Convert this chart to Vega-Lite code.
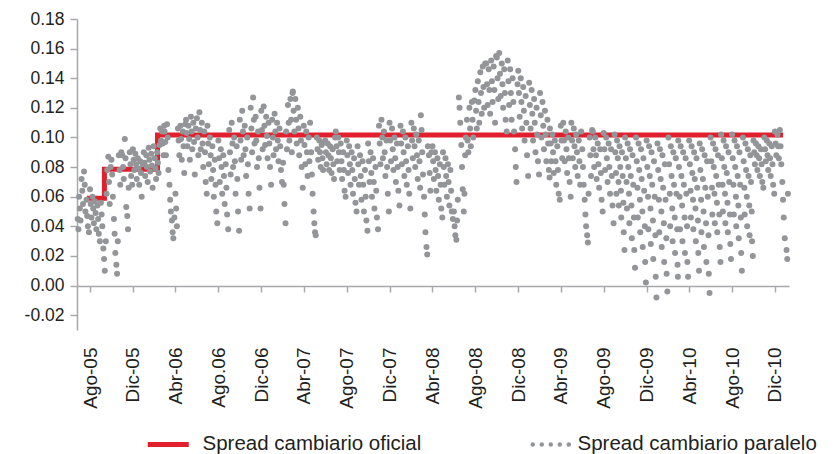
{
"$schema":"https://vega.github.io/schema/vega-lite/v6.json",
"width":712,"height":311,
"autosize":{"type":"none"},
"padding":{"left":77,"top":19,"right":47,"bottom":124},
"background":"white",
"config":{"view":{"stroke":null},"font":"Liberation Sans"},
"datasets":{
"oficial":[{"d":"2005-07-23","v":0.059},{"d":"2005-09-11","v":0.0785},{"d":"2006-02-09","v":0.1017},{"d":"2010-12-24","v":0.1017}],
"paralelo":[
{"d":"2005-06-27","v":0.045},{"d":"2005-06-29","v":0.038},
{"d":"2005-07-01","v":0.060},{"d":"2005-07-03","v":0.052},{"d":"2005-07-05","v":0.044},{"d":"2005-07-08","v":0.072},{"d":"2005-07-10","v":0.064},{"d":"2005-07-12","v":0.055},{"d":"2005-07-15","v":0.077},{"d":"2005-07-17","v":0.068},{"d":"2005-07-19","v":0.050},{"d":"2005-07-22","v":0.058},{"d":"2005-07-24","v":0.047},{"d":"2005-07-26","v":0.040},{"d":"2005-07-29","v":0.036},
{"d":"2005-08-01","v":0.065},{"d":"2005-08-03","v":0.055},{"d":"2005-08-05","v":0.046},{"d":"2005-08-08","v":0.060},{"d":"2005-08-10","v":0.052},{"d":"2005-08-12","v":0.042},{"d":"2005-08-15","v":0.057},{"d":"2005-08-17","v":0.049},{"d":"2005-08-19","v":0.038},{"d":"2005-08-22","v":0.054},{"d":"2005-08-24","v":0.045},{"d":"2005-08-26","v":0.035},{"d":"2005-08-29","v":0.030},
{"d":"2005-09-01","v":0.056},{"d":"2005-09-03","v":0.048},{"d":"2005-09-05","v":0.040},{"d":"2005-09-08","v":0.025},{"d":"2005-09-10","v":0.018},{"d":"2005-09-12","v":0.010},{"d":"2005-09-15","v":0.030},{"d":"2005-09-17","v":0.062},{"d":"2005-09-19","v":0.078},{"d":"2005-09-22","v":0.087},{"d":"2005-09-24","v":0.070},{"d":"2005-09-26","v":0.055},{"d":"2005-09-29","v":0.080},
{"d":"2005-10-01","v":0.085},{"d":"2005-10-03","v":0.075},{"d":"2005-10-05","v":0.060},{"d":"2005-10-08","v":0.045},{"d":"2005-10-10","v":0.035},{"d":"2005-10-12","v":0.022},{"d":"2005-10-15","v":0.014},{"d":"2005-10-17","v":0.008},{"d":"2005-10-19","v":0.030},{"d":"2005-10-22","v":0.088},{"d":"2005-10-24","v":0.078},{"d":"2005-10-26","v":0.068},{"d":"2005-10-29","v":0.090},
{"d":"2005-11-01","v":0.088},{"d":"2005-11-03","v":0.080},{"d":"2005-11-05","v":0.072},{"d":"2005-11-08","v":0.099},{"d":"2005-11-10","v":0.086},{"d":"2005-11-12","v":0.053},{"d":"2005-11-15","v":0.047},{"d":"2005-11-17","v":0.038},{"d":"2005-11-19","v":0.066},{"d":"2005-11-22","v":0.090},{"d":"2005-11-24","v":0.082},{"d":"2005-11-26","v":0.074},{"d":"2005-11-29","v":0.068},
{"d":"2005-12-01","v":0.092},{"d":"2005-12-03","v":0.085},{"d":"2005-12-05","v":0.078},{"d":"2005-12-08","v":0.089},{"d":"2005-12-10","v":0.082},{"d":"2005-12-12","v":0.072},{"d":"2005-12-15","v":0.086},{"d":"2005-12-17","v":0.079},{"d":"2005-12-19","v":0.068},{"d":"2005-12-22","v":0.084},{"d":"2005-12-24","v":0.076},{"d":"2005-12-26","v":0.060},{"d":"2005-12-29","v":0.082},
{"d":"2006-01-01","v":0.090},{"d":"2006-01-03","v":0.083},{"d":"2006-01-05","v":0.074},{"d":"2006-01-08","v":0.088},{"d":"2006-01-10","v":0.080},{"d":"2006-01-12","v":0.070},{"d":"2006-01-15","v":0.093},{"d":"2006-01-17","v":0.085},{"d":"2006-01-19","v":0.077},{"d":"2006-01-22","v":0.089},{"d":"2006-01-24","v":0.081},{"d":"2006-01-26","v":0.066},{"d":"2006-01-29","v":0.094},
{"d":"2006-02-01","v":0.086},{"d":"2006-02-03","v":0.079},{"d":"2006-02-05","v":0.072},{"d":"2006-02-08","v":0.090},{"d":"2006-02-10","v":0.083},{"d":"2006-02-12","v":0.076},{"d":"2006-02-15","v":0.095},{"d":"2006-02-17","v":0.106},{"d":"2006-02-19","v":0.098},{"d":"2006-02-22","v":0.104},{"d":"2006-02-24","v":0.096},{"d":"2006-02-26","v":0.088},{"d":"2006-02-28","v":0.108},
{"d":"2006-03-01","v":0.104},{"d":"2006-03-03","v":0.097},{"d":"2006-03-05","v":0.088},{"d":"2006-03-08","v":0.109},{"d":"2006-03-10","v":0.100},{"d":"2006-03-12","v":0.078},{"d":"2006-03-15","v":0.068},{"d":"2006-03-17","v":0.058},{"d":"2006-03-19","v":0.050},{"d":"2006-03-22","v":0.044},{"d":"2006-03-24","v":0.036},{"d":"2006-03-26","v":0.032},{"d":"2006-03-29","v":0.046},
{"d":"2006-04-01","v":0.062},{"d":"2006-04-03","v":0.052},{"d":"2006-04-05","v":0.040},{"d":"2006-04-08","v":0.106},{"d":"2006-04-10","v":0.098},{"d":"2006-04-12","v":0.088},{"d":"2006-04-15","v":0.108},{"d":"2006-04-17","v":0.099},{"d":"2006-04-19","v":0.085},{"d":"2006-04-22","v":0.104},{"d":"2006-04-24","v":0.094},{"d":"2006-04-26","v":0.076},{"d":"2006-04-29","v":0.109},
{"d":"2006-05-01","v":0.112},{"d":"2006-05-03","v":0.103},{"d":"2006-05-05","v":0.094},{"d":"2006-05-08","v":0.108},{"d":"2006-05-10","v":0.099},{"d":"2006-05-12","v":0.085},{"d":"2006-05-15","v":0.114},{"d":"2006-05-17","v":0.104},{"d":"2006-05-19","v":0.092},{"d":"2006-05-22","v":0.110},{"d":"2006-05-24","v":0.097},{"d":"2006-05-26","v":0.075},{"d":"2006-05-29","v":0.106},
{"d":"2006-06-01","v":0.113},{"d":"2006-06-03","v":0.100},{"d":"2006-06-05","v":0.088},{"d":"2006-06-08","v":0.117},{"d":"2006-06-10","v":0.105},{"d":"2006-06-12","v":0.092},{"d":"2006-06-15","v":0.110},{"d":"2006-06-17","v":0.096},{"d":"2006-06-19","v":0.080},{"d":"2006-06-22","v":0.104},{"d":"2006-06-24","v":0.090},{"d":"2006-06-26","v":0.070},{"d":"2006-06-29","v":0.062},
{"d":"2006-07-01","v":0.108},{"d":"2006-07-03","v":0.096},{"d":"2006-07-05","v":0.082},{"d":"2006-07-08","v":0.100},{"d":"2006-07-10","v":0.088},{"d":"2006-07-12","v":0.072},{"d":"2006-07-15","v":0.094},{"d":"2006-07-17","v":0.078},{"d":"2006-07-19","v":0.060},{"d":"2006-07-22","v":0.085},{"d":"2006-07-24","v":0.068},{"d":"2006-07-26","v":0.050},{"d":"2006-07-29","v":0.042},
{"d":"2006-08-01","v":0.098},{"d":"2006-08-03","v":0.086},{"d":"2006-08-05","v":0.070},{"d":"2006-08-08","v":0.092},{"d":"2006-08-10","v":0.080},{"d":"2006-08-12","v":0.062},{"d":"2006-08-15","v":0.088},{"d":"2006-08-17","v":0.074},{"d":"2006-08-19","v":0.055},{"d":"2006-08-22","v":0.082},{"d":"2006-08-24","v":0.066},{"d":"2006-08-26","v":0.048},{"d":"2006-08-29","v":0.038},
{"d":"2006-09-01","v":0.105},{"d":"2006-09-03","v":0.090},{"d":"2006-09-05","v":0.075},{"d":"2006-09-08","v":0.110},{"d":"2006-09-10","v":0.096},{"d":"2006-09-12","v":0.080},{"d":"2006-09-15","v":0.100},{"d":"2006-09-17","v":0.084},{"d":"2006-09-19","v":0.062},{"d":"2006-09-22","v":0.094},{"d":"2006-09-24","v":0.072},{"d":"2006-09-26","v":0.050},{"d":"2006-09-29","v":0.037},
{"d":"2006-10-01","v":0.112},{"d":"2006-10-03","v":0.098},{"d":"2006-10-05","v":0.085},{"d":"2006-10-08","v":0.118},{"d":"2006-10-10","v":0.104},{"d":"2006-10-12","v":0.088},{"d":"2006-10-15","v":0.108},{"d":"2006-10-17","v":0.092},{"d":"2006-10-19","v":0.074},{"d":"2006-10-22","v":0.100},{"d":"2006-10-24","v":0.082},{"d":"2006-10-26","v":0.062},{"d":"2006-10-29","v":0.052},
{"d":"2006-11-01","v":0.120},{"d":"2006-11-03","v":0.106},{"d":"2006-11-05","v":0.090},{"d":"2006-11-08","v":0.127},{"d":"2006-11-10","v":0.112},{"d":"2006-11-12","v":0.096},{"d":"2006-11-15","v":0.114},{"d":"2006-11-17","v":0.098},{"d":"2006-11-19","v":0.080},{"d":"2006-11-22","v":0.104},{"d":"2006-11-24","v":0.086},{"d":"2006-11-26","v":0.066},{"d":"2006-11-29","v":0.052},
{"d":"2006-12-01","v":0.118},{"d":"2006-12-03","v":0.105},{"d":"2006-12-05","v":0.092},{"d":"2006-12-08","v":0.121},{"d":"2006-12-10","v":0.108},{"d":"2006-12-12","v":0.095},{"d":"2006-12-15","v":0.114},{"d":"2006-12-17","v":0.101},{"d":"2006-12-19","v":0.086},{"d":"2006-12-22","v":0.110},{"d":"2006-12-24","v":0.096},{"d":"2006-12-26","v":0.080},{"d":"2006-12-29","v":0.068},
{"d":"2007-01-01","v":0.112},{"d":"2007-01-03","v":0.100},{"d":"2007-01-05","v":0.088},{"d":"2007-01-08","v":0.116},{"d":"2007-01-10","v":0.104},{"d":"2007-01-12","v":0.092},{"d":"2007-01-15","v":0.110},{"d":"2007-01-17","v":0.098},{"d":"2007-01-19","v":0.084},{"d":"2007-01-22","v":0.106},{"d":"2007-01-24","v":0.094},{"d":"2007-01-26","v":0.078},{"d":"2007-01-29","v":0.070},
{"d":"2007-02-01","v":0.083},{"d":"2007-02-03","v":0.068},{"d":"2007-02-05","v":0.055},{"d":"2007-02-08","v":0.042},{"d":"2007-02-10","v":0.104},{"d":"2007-02-12","v":0.092},{"d":"2007-02-15","v":0.122},{"d":"2007-02-17","v":0.110},{"d":"2007-02-19","v":0.098},{"d":"2007-02-22","v":0.126},{"d":"2007-02-24","v":0.112},{"d":"2007-02-26","v":0.090},{"d":"2007-02-28","v":0.130},
{"d":"2007-03-01","v":0.131},{"d":"2007-03-03","v":0.118},{"d":"2007-03-05","v":0.104},{"d":"2007-03-08","v":0.126},{"d":"2007-03-10","v":0.112},{"d":"2007-03-12","v":0.096},{"d":"2007-03-15","v":0.120},{"d":"2007-03-17","v":0.106},{"d":"2007-03-19","v":0.088},{"d":"2007-03-22","v":0.114},{"d":"2007-03-24","v":0.098},{"d":"2007-03-26","v":0.080},{"d":"2007-03-29","v":0.066},
{"d":"2007-04-01","v":0.108},{"d":"2007-04-03","v":0.095},{"d":"2007-04-05","v":0.082},{"d":"2007-04-08","v":0.104},{"d":"2007-04-10","v":0.090},{"d":"2007-04-12","v":0.074},{"d":"2007-04-15","v":0.100},{"d":"2007-04-17","v":0.084},{"d":"2007-04-19","v":0.110},{"d":"2007-04-22","v":0.090},{"d":"2007-04-24","v":0.075},{"d":"2007-04-26","v":0.062},{"d":"2007-04-29","v":0.050},
{"d":"2007-05-01","v":0.042},{"d":"2007-05-03","v":0.036},{"d":"2007-05-05","v":0.034},{"d":"2007-05-08","v":0.100},{"d":"2007-05-10","v":0.092},{"d":"2007-05-12","v":0.085},{"d":"2007-05-15","v":0.098},{"d":"2007-05-17","v":0.090},{"d":"2007-05-19","v":0.080},{"d":"2007-05-22","v":0.095},{"d":"2007-05-24","v":0.086},{"d":"2007-05-26","v":0.078},{"d":"2007-05-29","v":0.097},
{"d":"2007-06-01","v":0.098},{"d":"2007-06-03","v":0.090},{"d":"2007-06-05","v":0.082},{"d":"2007-06-08","v":0.096},{"d":"2007-06-10","v":0.088},{"d":"2007-06-12","v":0.078},{"d":"2007-06-15","v":0.094},{"d":"2007-06-17","v":0.086},{"d":"2007-06-19","v":0.076},{"d":"2007-06-22","v":0.092},{"d":"2007-06-24","v":0.082},{"d":"2007-06-26","v":0.072},{"d":"2007-06-29","v":0.100},
{"d":"2007-07-01","v":0.104},{"d":"2007-07-03","v":0.094},{"d":"2007-07-05","v":0.084},{"d":"2007-07-08","v":0.100},{"d":"2007-07-10","v":0.090},{"d":"2007-07-12","v":0.078},{"d":"2007-07-15","v":0.096},{"d":"2007-07-17","v":0.084},{"d":"2007-07-19","v":0.072},{"d":"2007-07-22","v":0.090},{"d":"2007-07-24","v":0.078},{"d":"2007-07-26","v":0.064},{"d":"2007-07-29","v":0.060},
{"d":"2007-08-01","v":0.098},{"d":"2007-08-03","v":0.088},{"d":"2007-08-05","v":0.076},{"d":"2007-08-08","v":0.094},{"d":"2007-08-10","v":0.082},{"d":"2007-08-12","v":0.068},{"d":"2007-08-15","v":0.090},{"d":"2007-08-17","v":0.078},{"d":"2007-08-19","v":0.062},{"d":"2007-08-22","v":0.086},{"d":"2007-08-24","v":0.072},{"d":"2007-08-26","v":0.056},{"d":"2007-08-29","v":0.050},
{"d":"2007-09-01","v":0.094},{"d":"2007-09-03","v":0.082},{"d":"2007-09-05","v":0.068},{"d":"2007-09-08","v":0.088},{"d":"2007-09-10","v":0.074},{"d":"2007-09-12","v":0.058},{"d":"2007-09-15","v":0.084},{"d":"2007-09-17","v":0.068},{"d":"2007-09-19","v":0.050},{"d":"2007-09-22","v":0.078},{"d":"2007-09-24","v":0.060},{"d":"2007-09-26","v":0.044},{"d":"2007-09-29","v":0.037},
{"d":"2007-10-01","v":0.096},{"d":"2007-10-03","v":0.084},{"d":"2007-10-05","v":0.070},{"d":"2007-10-08","v":0.090},{"d":"2007-10-10","v":0.076},{"d":"2007-10-12","v":0.060},{"d":"2007-10-15","v":0.086},{"d":"2007-10-17","v":0.070},{"d":"2007-10-19","v":0.052},{"d":"2007-10-22","v":0.080},{"d":"2007-10-24","v":0.064},{"d":"2007-10-26","v":0.046},{"d":"2007-10-29","v":0.038},
{"d":"2007-11-01","v":0.108},{"d":"2007-11-03","v":0.096},{"d":"2007-11-05","v":0.082},{"d":"2007-11-08","v":0.112},{"d":"2007-11-10","v":0.100},{"d":"2007-11-12","v":0.086},{"d":"2007-11-15","v":0.104},{"d":"2007-11-17","v":0.090},{"d":"2007-11-19","v":0.074},{"d":"2007-11-22","v":0.098},{"d":"2007-11-24","v":0.080},{"d":"2007-11-26","v":0.062},{"d":"2007-11-29","v":0.050},
{"d":"2007-12-01","v":0.110},{"d":"2007-12-03","v":0.098},{"d":"2007-12-05","v":0.084},{"d":"2007-12-08","v":0.106},{"d":"2007-12-10","v":0.092},{"d":"2007-12-12","v":0.078},{"d":"2007-12-15","v":0.100},{"d":"2007-12-17","v":0.086},{"d":"2007-12-19","v":0.070},{"d":"2007-12-22","v":0.096},{"d":"2007-12-24","v":0.080},{"d":"2007-12-26","v":0.064},{"d":"2007-12-29","v":0.054},
{"d":"2008-01-01","v":0.108},{"d":"2008-01-03","v":0.096},{"d":"2008-01-05","v":0.082},{"d":"2008-01-08","v":0.104},{"d":"2008-01-10","v":0.090},{"d":"2008-01-12","v":0.074},{"d":"2008-01-15","v":0.100},{"d":"2008-01-17","v":0.084},{"d":"2008-01-19","v":0.068},{"d":"2008-01-22","v":0.094},{"d":"2008-01-24","v":0.078},{"d":"2008-01-26","v":0.062},{"d":"2008-01-29","v":0.052},
{"d":"2008-02-01","v":0.110},{"d":"2008-02-03","v":0.098},{"d":"2008-02-05","v":0.086},{"d":"2008-02-08","v":0.106},{"d":"2008-02-10","v":0.094},{"d":"2008-02-12","v":0.080},{"d":"2008-02-15","v":0.102},{"d":"2008-02-17","v":0.088},{"d":"2008-02-19","v":0.072},{"d":"2008-02-22","v":0.098},{"d":"2008-02-24","v":0.084},{"d":"2008-02-26","v":0.066},{"d":"2008-02-28","v":0.115},
{"d":"2008-03-01","v":0.105},{"d":"2008-03-03","v":0.090},{"d":"2008-03-05","v":0.075},{"d":"2008-03-08","v":0.060},{"d":"2008-03-10","v":0.048},{"d":"2008-03-12","v":0.036},{"d":"2008-03-15","v":0.026},{"d":"2008-03-17","v":0.021},{"d":"2008-03-19","v":0.094},{"d":"2008-03-22","v":0.088},{"d":"2008-03-24","v":0.076},{"d":"2008-03-26","v":0.064},{"d":"2008-03-29","v":0.090},
{"d":"2008-04-01","v":0.094},{"d":"2008-04-03","v":0.084},{"d":"2008-04-05","v":0.072},{"d":"2008-04-08","v":0.090},{"d":"2008-04-10","v":0.078},{"d":"2008-04-12","v":0.064},{"d":"2008-04-15","v":0.086},{"d":"2008-04-17","v":0.074},{"d":"2008-04-19","v":0.058},{"d":"2008-04-22","v":0.082},{"d":"2008-04-24","v":0.068},{"d":"2008-04-26","v":0.052},{"d":"2008-04-29","v":0.046},
{"d":"2008-05-01","v":0.090},{"d":"2008-05-03","v":0.080},{"d":"2008-05-05","v":0.068},{"d":"2008-05-08","v":0.086},{"d":"2008-05-10","v":0.074},{"d":"2008-05-12","v":0.060},{"d":"2008-05-15","v":0.082},{"d":"2008-05-17","v":0.070},{"d":"2008-05-19","v":0.054},{"d":"2008-05-22","v":0.078},{"d":"2008-05-24","v":0.064},{"d":"2008-05-26","v":0.050},{"d":"2008-05-29","v":0.045},
{"d":"2008-06-01","v":0.050},{"d":"2008-06-03","v":0.040},{"d":"2008-06-05","v":0.034},{"d":"2008-06-08","v":0.031},{"d":"2008-06-10","v":0.044},{"d":"2008-06-12","v":0.058},{"d":"2008-06-15","v":0.127},{"d":"2008-06-17","v":0.120},{"d":"2008-06-19","v":0.110},{"d":"2008-06-22","v":0.095},{"d":"2008-06-24","v":0.080},{"d":"2008-06-26","v":0.065},{"d":"2008-06-29","v":0.050},
{"d":"2008-07-01","v":0.062},{"d":"2008-07-03","v":0.088},{"d":"2008-07-05","v":0.100},{"d":"2008-07-08","v":0.112},{"d":"2008-07-10","v":0.098},{"d":"2008-07-12","v":0.090},{"d":"2008-07-15","v":0.120},{"d":"2008-07-17","v":0.106},{"d":"2008-07-19","v":0.094},{"d":"2008-07-22","v":0.124},{"d":"2008-07-24","v":0.112},{"d":"2008-07-26","v":0.100},{"d":"2008-07-29","v":0.125},
{"d":"2008-08-01","v":0.132},{"d":"2008-08-03","v":0.118},{"d":"2008-08-05","v":0.106},{"d":"2008-08-08","v":0.138},{"d":"2008-08-10","v":0.124},{"d":"2008-08-12","v":0.110},{"d":"2008-08-15","v":0.144},{"d":"2008-08-17","v":0.130},{"d":"2008-08-19","v":0.116},{"d":"2008-08-22","v":0.148},{"d":"2008-08-24","v":0.134},{"d":"2008-08-26","v":0.120},{"d":"2008-08-29","v":0.150},
{"d":"2008-09-01","v":0.150},{"d":"2008-09-03","v":0.136},{"d":"2008-09-05","v":0.122},{"d":"2008-09-08","v":0.146},{"d":"2008-09-10","v":0.132},{"d":"2008-09-12","v":0.116},{"d":"2008-09-15","v":0.152},{"d":"2008-09-17","v":0.138},{"d":"2008-09-19","v":0.124},{"d":"2008-09-22","v":0.148},{"d":"2008-09-24","v":0.132},{"d":"2008-09-26","v":0.110},{"d":"2008-09-29","v":0.155},
{"d":"2008-10-01","v":0.154},{"d":"2008-10-03","v":0.140},{"d":"2008-10-05","v":0.126},{"d":"2008-10-08","v":0.157},{"d":"2008-10-10","v":0.143},{"d":"2008-10-12","v":0.128},{"d":"2008-10-15","v":0.150},{"d":"2008-10-17","v":0.136},{"d":"2008-10-19","v":0.120},{"d":"2008-10-22","v":0.146},{"d":"2008-10-24","v":0.130},{"d":"2008-10-26","v":0.112},{"d":"2008-10-29","v":0.104},
{"d":"2008-11-01","v":0.152},{"d":"2008-11-03","v":0.138},{"d":"2008-11-05","v":0.122},{"d":"2008-11-08","v":0.146},{"d":"2008-11-10","v":0.130},{"d":"2008-11-12","v":0.112},{"d":"2008-11-15","v":0.140},{"d":"2008-11-17","v":0.124},{"d":"2008-11-19","v":0.104},{"d":"2008-11-22","v":0.092},{"d":"2008-11-24","v":0.080},{"d":"2008-11-26","v":0.070},{"d":"2008-11-29","v":0.136},
{"d":"2008-12-01","v":0.145},{"d":"2008-12-03","v":0.130},{"d":"2008-12-05","v":0.114},{"d":"2008-12-08","v":0.140},{"d":"2008-12-10","v":0.124},{"d":"2008-12-12","v":0.106},{"d":"2008-12-15","v":0.134},{"d":"2008-12-17","v":0.118},{"d":"2008-12-19","v":0.098},{"d":"2008-12-22","v":0.128},{"d":"2008-12-24","v":0.110},{"d":"2008-12-26","v":0.088},{"d":"2008-12-29","v":0.074},
{"d":"2009-01-01","v":0.137},{"d":"2009-01-03","v":0.122},{"d":"2009-01-05","v":0.106},{"d":"2009-01-08","v":0.132},{"d":"2009-01-10","v":0.116},{"d":"2009-01-12","v":0.098},{"d":"2009-01-15","v":0.126},{"d":"2009-01-17","v":0.110},{"d":"2009-01-19","v":0.090},{"d":"2009-01-22","v":0.120},{"d":"2009-01-24","v":0.102},{"d":"2009-01-26","v":0.084},{"d":"2009-01-29","v":0.075},
{"d":"2009-02-01","v":0.130},{"d":"2009-02-03","v":0.115},{"d":"2009-02-05","v":0.100},{"d":"2009-02-08","v":0.124},{"d":"2009-02-10","v":0.108},{"d":"2009-02-12","v":0.092},{"d":"2009-02-15","v":0.118},{"d":"2009-02-17","v":0.102},{"d":"2009-02-19","v":0.084},{"d":"2009-02-22","v":0.112},{"d":"2009-02-24","v":0.096},{"d":"2009-02-26","v":0.078},{"d":"2009-02-28","v":0.073},
{"d":"2009-03-01","v":0.106},{"d":"2009-03-03","v":0.096},{"d":"2009-03-05","v":0.084},{"d":"2009-03-08","v":0.102},{"d":"2009-03-10","v":0.090},{"d":"2009-03-12","v":0.076},{"d":"2009-03-15","v":0.098},{"d":"2009-03-17","v":0.084},{"d":"2009-03-19","v":0.068},{"d":"2009-03-22","v":0.094},{"d":"2009-03-24","v":0.078},{"d":"2009-03-26","v":0.062},{"d":"2009-03-29","v":0.058},
{"d":"2009-04-01","v":0.108},{"d":"2009-04-03","v":0.098},{"d":"2009-04-05","v":0.086},{"d":"2009-04-08","v":0.110},{"d":"2009-04-10","v":0.098},{"d":"2009-04-12","v":0.084},{"d":"2009-04-15","v":0.104},{"d":"2009-04-17","v":0.092},{"d":"2009-04-19","v":0.076},{"d":"2009-04-22","v":0.100},{"d":"2009-04-24","v":0.086},{"d":"2009-04-26","v":0.070},{"d":"2009-04-29","v":0.060},
{"d":"2009-05-01","v":0.110},{"d":"2009-05-03","v":0.098},{"d":"2009-05-05","v":0.086},{"d":"2009-05-08","v":0.106},{"d":"2009-05-10","v":0.094},{"d":"2009-05-12","v":0.080},{"d":"2009-05-15","v":0.102},{"d":"2009-05-17","v":0.090},{"d":"2009-05-19","v":0.074},{"d":"2009-05-22","v":0.098},{"d":"2009-05-24","v":0.084},{"d":"2009-05-26","v":0.068},{"d":"2009-05-29","v":0.104},
{"d":"2009-06-01","v":0.092},{"d":"2009-06-03","v":0.080},{"d":"2009-06-05","v":0.068},{"d":"2009-06-08","v":0.058},{"d":"2009-06-10","v":0.048},{"d":"2009-06-12","v":0.040},{"d":"2009-06-15","v":0.034},{"d":"2009-06-17","v":0.029},{"d":"2009-06-19","v":0.062},{"d":"2009-06-22","v":0.100},{"d":"2009-06-24","v":0.088},{"d":"2009-06-26","v":0.074},{"d":"2009-06-29","v":0.105},
{"d":"2009-07-01","v":0.104},{"d":"2009-07-03","v":0.092},{"d":"2009-07-05","v":0.080},{"d":"2009-07-08","v":0.100},{"d":"2009-07-10","v":0.088},{"d":"2009-07-12","v":0.072},{"d":"2009-07-15","v":0.096},{"d":"2009-07-17","v":0.082},{"d":"2009-07-19","v":0.066},{"d":"2009-07-22","v":0.092},{"d":"2009-07-24","v":0.076},{"d":"2009-07-26","v":0.058},{"d":"2009-07-29","v":0.050},
{"d":"2009-08-01","v":0.103},{"d":"2009-08-03","v":0.092},{"d":"2009-08-05","v":0.078},{"d":"2009-08-08","v":0.100},{"d":"2009-08-10","v":0.086},{"d":"2009-08-12","v":0.070},{"d":"2009-08-15","v":0.096},{"d":"2009-08-17","v":0.080},{"d":"2009-08-19","v":0.062},{"d":"2009-08-22","v":0.092},{"d":"2009-08-24","v":0.074},{"d":"2009-08-26","v":0.054},{"d":"2009-08-29","v":0.042},
{"d":"2009-09-01","v":0.102},{"d":"2009-09-03","v":0.090},{"d":"2009-09-05","v":0.076},{"d":"2009-09-06","v":0.062},{"d":"2009-09-08","v":0.098},{"d":"2009-09-10","v":0.086},{"d":"2009-09-12","v":0.070},{"d":"2009-09-13","v":0.054},{"d":"2009-09-15","v":0.094},{"d":"2009-09-17","v":0.080},{"d":"2009-09-19","v":0.064},{"d":"2009-09-20","v":0.046},{"d":"2009-09-22","v":0.090},{"d":"2009-09-24","v":0.074},{"d":"2009-09-26","v":0.056},{"d":"2009-09-27","v":0.036},{"d":"2009-09-29","v":0.024},
{"d":"2009-10-01","v":0.100},{"d":"2009-10-03","v":0.086},{"d":"2009-10-05","v":0.070},{"d":"2009-10-06","v":0.052},{"d":"2009-10-08","v":0.096},{"d":"2009-10-10","v":0.080},{"d":"2009-10-12","v":0.062},{"d":"2009-10-13","v":0.042},{"d":"2009-10-15","v":0.092},{"d":"2009-10-17","v":0.074},{"d":"2009-10-19","v":0.054},{"d":"2009-10-20","v":0.032},{"d":"2009-10-22","v":0.088},{"d":"2009-10-24","v":0.068},{"d":"2009-10-26","v":0.046},{"d":"2009-10-27","v":0.024},{"d":"2009-10-29","v":0.012},
{"d":"2009-11-01","v":0.100},{"d":"2009-11-03","v":0.084},{"d":"2009-11-05","v":0.066},{"d":"2009-11-06","v":0.046},{"d":"2009-11-08","v":0.096},{"d":"2009-11-10","v":0.078},{"d":"2009-11-12","v":0.058},{"d":"2009-11-13","v":0.036},{"d":"2009-11-15","v":0.092},{"d":"2009-11-17","v":0.072},{"d":"2009-11-19","v":0.050},{"d":"2009-11-20","v":0.026},{"d":"2009-11-22","v":0.086},{"d":"2009-11-24","v":0.064},{"d":"2009-11-26","v":0.040},{"d":"2009-11-27","v":0.016},{"d":"2009-11-29","v":0.002},
{"d":"2009-12-01","v":0.098},{"d":"2009-12-03","v":0.080},{"d":"2009-12-05","v":0.060},{"d":"2009-12-06","v":0.038},{"d":"2009-12-08","v":0.094},{"d":"2009-12-10","v":0.074},{"d":"2009-12-12","v":0.052},{"d":"2009-12-13","v":0.028},{"d":"2009-12-15","v":0.090},{"d":"2009-12-17","v":0.068},{"d":"2009-12-19","v":0.044},{"d":"2009-12-20","v":0.018},{"d":"2009-12-22","v":0.084},{"d":"2009-12-24","v":0.060},{"d":"2009-12-26","v":0.034},{"d":"2009-12-27","v":0.006},{"d":"2009-12-29","v":-0.008},
{"d":"2010-01-01","v":0.096},{"d":"2010-01-03","v":0.078},{"d":"2010-01-05","v":0.058},{"d":"2010-01-06","v":0.036},{"d":"2010-01-08","v":0.092},{"d":"2010-01-10","v":0.072},{"d":"2010-01-12","v":0.050},{"d":"2010-01-13","v":0.026},{"d":"2010-01-15","v":0.088},{"d":"2010-01-17","v":0.066},{"d":"2010-01-19","v":0.042},{"d":"2010-01-20","v":0.016},{"d":"2010-01-22","v":0.082},{"d":"2010-01-24","v":0.058},{"d":"2010-01-26","v":0.032},{"d":"2010-01-27","v":0.008},{"d":"2010-01-29","v":-0.004},
{"d":"2010-02-01","v":0.100},{"d":"2010-02-03","v":0.082},{"d":"2010-02-05","v":0.062},{"d":"2010-02-06","v":0.040},{"d":"2010-02-08","v":0.094},{"d":"2010-02-10","v":0.074},{"d":"2010-02-12","v":0.052},{"d":"2010-02-13","v":0.030},{"d":"2010-02-15","v":0.090},{"d":"2010-02-17","v":0.068},{"d":"2010-02-19","v":0.046},{"d":"2010-02-20","v":0.022},{"d":"2010-02-22","v":0.086},{"d":"2010-02-24","v":0.062},{"d":"2010-02-26","v":0.038},{"d":"2010-02-27","v":0.014},{"d":"2010-02-28","v":0.006},
{"d":"2010-03-01","v":0.098},{"d":"2010-03-03","v":0.080},{"d":"2010-03-05","v":0.060},{"d":"2010-03-06","v":0.038},{"d":"2010-03-08","v":0.094},{"d":"2010-03-10","v":0.074},{"d":"2010-03-12","v":0.054},{"d":"2010-03-13","v":0.030},{"d":"2010-03-15","v":0.090},{"d":"2010-03-17","v":0.068},{"d":"2010-03-19","v":0.046},{"d":"2010-03-20","v":0.022},{"d":"2010-03-22","v":0.086},{"d":"2010-03-24","v":0.062},{"d":"2010-03-26","v":0.040},{"d":"2010-03-27","v":0.016},{"d":"2010-03-29","v":0.006},
{"d":"2010-04-01","v":0.098},{"d":"2010-04-03","v":0.082},{"d":"2010-04-05","v":0.064},{"d":"2010-04-06","v":0.046},{"d":"2010-04-08","v":0.094},{"d":"2010-04-10","v":0.076},{"d":"2010-04-12","v":0.058},{"d":"2010-04-13","v":0.038},{"d":"2010-04-15","v":0.090},{"d":"2010-04-17","v":0.072},{"d":"2010-04-19","v":0.052},{"d":"2010-04-20","v":0.030},{"d":"2010-04-22","v":0.086},{"d":"2010-04-24","v":0.066},{"d":"2010-04-26","v":0.044},{"d":"2010-04-27","v":0.022},{"d":"2010-04-29","v":0.010},
{"d":"2010-05-01","v":0.096},{"d":"2010-05-03","v":0.078},{"d":"2010-05-05","v":0.058},{"d":"2010-05-06","v":0.036},{"d":"2010-05-08","v":0.092},{"d":"2010-05-10","v":0.072},{"d":"2010-05-12","v":0.050},{"d":"2010-05-13","v":0.026},{"d":"2010-05-15","v":0.088},{"d":"2010-05-17","v":0.066},{"d":"2010-05-19","v":0.042},{"d":"2010-05-20","v":0.016},{"d":"2010-05-22","v":0.084},{"d":"2010-05-24","v":0.060},{"d":"2010-05-26","v":0.034},{"d":"2010-05-27","v":0.008},{"d":"2010-05-29","v":-0.005},
{"d":"2010-06-01","v":0.100},{"d":"2010-06-03","v":0.084},{"d":"2010-06-05","v":0.066},{"d":"2010-06-06","v":0.048},{"d":"2010-06-08","v":0.096},{"d":"2010-06-10","v":0.080},{"d":"2010-06-12","v":0.062},{"d":"2010-06-13","v":0.042},{"d":"2010-06-15","v":0.092},{"d":"2010-06-17","v":0.074},{"d":"2010-06-19","v":0.056},{"d":"2010-06-20","v":0.036},{"d":"2010-06-22","v":0.088},{"d":"2010-06-24","v":0.068},{"d":"2010-06-26","v":0.048},{"d":"2010-06-27","v":0.026},{"d":"2010-06-29","v":0.016},
{"d":"2010-07-01","v":0.102},{"d":"2010-07-03","v":0.086},{"d":"2010-07-05","v":0.068},{"d":"2010-07-06","v":0.050},{"d":"2010-07-08","v":0.098},{"d":"2010-07-10","v":0.080},{"d":"2010-07-12","v":0.062},{"d":"2010-07-13","v":0.042},{"d":"2010-07-15","v":0.094},{"d":"2010-07-17","v":0.076},{"d":"2010-07-19","v":0.056},{"d":"2010-07-20","v":0.036},{"d":"2010-07-22","v":0.090},{"d":"2010-07-24","v":0.070},{"d":"2010-07-26","v":0.048},{"d":"2010-07-27","v":0.028},{"d":"2010-07-29","v":0.018},
{"d":"2010-08-01","v":0.102},{"d":"2010-08-03","v":0.086},{"d":"2010-08-05","v":0.068},{"d":"2010-08-06","v":0.048},{"d":"2010-08-08","v":0.098},{"d":"2010-08-10","v":0.080},{"d":"2010-08-12","v":0.060},{"d":"2010-08-13","v":0.040},{"d":"2010-08-15","v":0.094},{"d":"2010-08-17","v":0.074},{"d":"2010-08-19","v":0.054},{"d":"2010-08-20","v":0.032},{"d":"2010-08-22","v":0.090},{"d":"2010-08-24","v":0.068},{"d":"2010-08-26","v":0.046},{"d":"2010-08-27","v":0.022},{"d":"2010-08-29","v":0.010},
{"d":"2010-09-01","v":0.100},{"d":"2010-09-03","v":0.084},{"d":"2010-09-05","v":0.066},{"d":"2010-09-06","v":0.048},{"d":"2010-09-08","v":0.096},{"d":"2010-09-10","v":0.078},{"d":"2010-09-12","v":0.060},{"d":"2010-09-13","v":0.040},{"d":"2010-09-15","v":0.092},{"d":"2010-09-17","v":0.074},{"d":"2010-09-19","v":0.054},{"d":"2010-09-20","v":0.034},{"d":"2010-09-22","v":0.088},{"d":"2010-09-24","v":0.070},{"d":"2010-09-26","v":0.050},{"d":"2010-09-27","v":0.030},{"d":"2010-09-29","v":0.020},
{"d":"2010-10-01","v":0.098},{"d":"2010-10-03","v":0.090},{"d":"2010-10-05","v":0.082},{"d":"2010-10-08","v":0.096},{"d":"2010-10-10","v":0.088},{"d":"2010-10-12","v":0.078},{"d":"2010-10-15","v":0.094},{"d":"2010-10-17","v":0.086},{"d":"2010-10-19","v":0.074},{"d":"2010-10-22","v":0.092},{"d":"2010-10-24","v":0.082},{"d":"2010-10-26","v":0.070},{"d":"2010-10-29","v":0.066},
{"d":"2010-11-01","v":0.100},{"d":"2010-11-03","v":0.092},{"d":"2010-11-05","v":0.084},{"d":"2010-11-08","v":0.098},{"d":"2010-11-10","v":0.088},{"d":"2010-11-12","v":0.078},{"d":"2010-11-15","v":0.096},{"d":"2010-11-17","v":0.086},{"d":"2010-11-19","v":0.074},{"d":"2010-11-22","v":0.094},{"d":"2010-11-24","v":0.082},{"d":"2010-11-26","v":0.068},{"d":"2010-11-29","v":0.062},
{"d":"2010-12-01","v":0.104},{"d":"2010-12-03","v":0.096},{"d":"2010-12-05","v":0.088},{"d":"2010-12-08","v":0.102},{"d":"2010-12-10","v":0.094},{"d":"2010-12-12","v":0.086},{"d":"2010-12-15","v":0.105},{"d":"2010-12-17","v":0.094},{"d":"2010-12-19","v":0.082},{"d":"2010-12-22","v":0.070},{"d":"2010-12-24","v":0.058},{"d":"2010-12-26","v":0.046},{"d":"2010-12-29","v":0.032},
{"d":"2011-01-03","v":0.024},{"d":"2011-01-05","v":0.018},{"d":"2011-01-07","v":0.062}
]},
"encoding":{
 "x":{"field":"d","type":"temporal",
  "scale":{"type":"utc","nice":false,"domain":[{"year":2005,"month":6,"date":25,"utc":true},{"year":2011,"month":1,"date":10,"utc":true}]},
  "axis":{"title":null,"offset":-44,"grid":false,
   "values":[{"year":2005,"month":8,"date":1,"utc":true},{"year":2005,"month":12,"date":1,"utc":true},{"year":2006,"month":4,"date":1,"utc":true},{"year":2006,"month":8,"date":1,"utc":true},{"year":2006,"month":12,"date":1,"utc":true},{"year":2007,"month":4,"date":1,"utc":true},{"year":2007,"month":8,"date":1,"utc":true},{"year":2007,"month":12,"date":1,"utc":true},{"year":2008,"month":4,"date":1,"utc":true},{"year":2008,"month":8,"date":1,"utc":true},{"year":2008,"month":12,"date":1,"utc":true},{"year":2009,"month":4,"date":1,"utc":true},{"year":2009,"month":8,"date":1,"utc":true},{"year":2009,"month":12,"date":1,"utc":true},{"year":2010,"month":4,"date":1,"utc":true},{"year":2010,"month":8,"date":1,"utc":true},{"year":2010,"month":12,"date":1,"utc":true}],
   "labelExpr":"['Ene','Feb','Mar','Abr','May','Jun','Jul','Ago','Sep','Oct','Nov','Dic'][utcmonth(datum.value)] + ((utcyear(datum.value) == 2006 && utcmonth(datum.value) == 7) ? '.' : '-') + utcFormat(datum.value, '%y')",
   "labelAngle":270,"labelAlign":"right","labelBaseline":"middle","labelPadding":55,
   "labelFontSize":19,"labelFont":"Liberation Sans","labelColor":"#231f20","labelOverlap":false,"labelFlush":false,
   "tickSize":6,"tickColor":"#a6a8ab","tickWidth":1.5,"domainColor":"#a6a8ab","domainWidth":1.5}},
 "y":{"field":"v","type":"quantitative",
  "scale":{"domain":[-0.03,0.18],"nice":false,"zero":false},
  "axis":{"title":null,"grid":false,"values":[-0.02,0,0.02,0.04,0.06,0.08,0.1,0.12,0.14,0.16,0.18],
   "format":".2f","labelExpr":"replace(datum.label, '\u2212', '-')","labelOverlap":false,"labelFlush":false,"labelBound":false,
   "labelFontSize":17.5,"labelFont":"Liberation Sans","labelColor":"#231f20","labelPadding":6,
   "tickSize":7,"tickColor":"#a6a8ab","tickWidth":1.5,"domainColor":"#a6a8ab","domainWidth":1.5}}
},
"layer":[
{"data":{"name":"oficial"},
 "mark":{"type":"line","interpolate":"step-after","strokeWidth":5,"strokeCap":"butt"},
 "encoding":{
  "color":{"datum":"Spread cambiario oficial",
   "scale":{"domain":["Spread cambiario oficial","Spread cambiario paralelo"],"range":["#e11f2d","#939598"]},
   "legend":{"orient":"none","legendX":81,"legendY":415,"direction":"horizontal","columns":2,"columnPadding":101,"title":null,
    "symbolType":"stroke","symbolSize":1681,"symbolStrokeWidth":5,"labelFontSize":20.5,"labelFont":"Liberation Sans","labelColor":"#231f20","labelOffset":24,"labelLimit":400,"padding":0,
    "encode":{
     "symbols":{"update":{
      "stroke":{"scale":"color","field":"value"},
      "strokeDash":{"signal":"datum.value === 'Spread cambiario paralelo' ? [0.01, 9] : [1, 0]"},
      "strokeCap":{"signal":"datum.value === 'Spread cambiario paralelo' ? 'round' : 'butt'"},
      "strokeWidth":{"signal":"datum.value === 'Spread cambiario paralelo' ? 4.5 : 5"}}},
     "labels":{"update":{"dx":{"signal":"datum.value === 'Spread cambiario paralelo' ? -10 : 0"}}}}}}
 }},
{"data":{"name":"paralelo"},
 "mark":{"type":"point","filled":true,"size":36,"opacity":1},
 "encoding":{
  "color":{"datum":"Spread cambiario paralelo"}
 }}
]
}
